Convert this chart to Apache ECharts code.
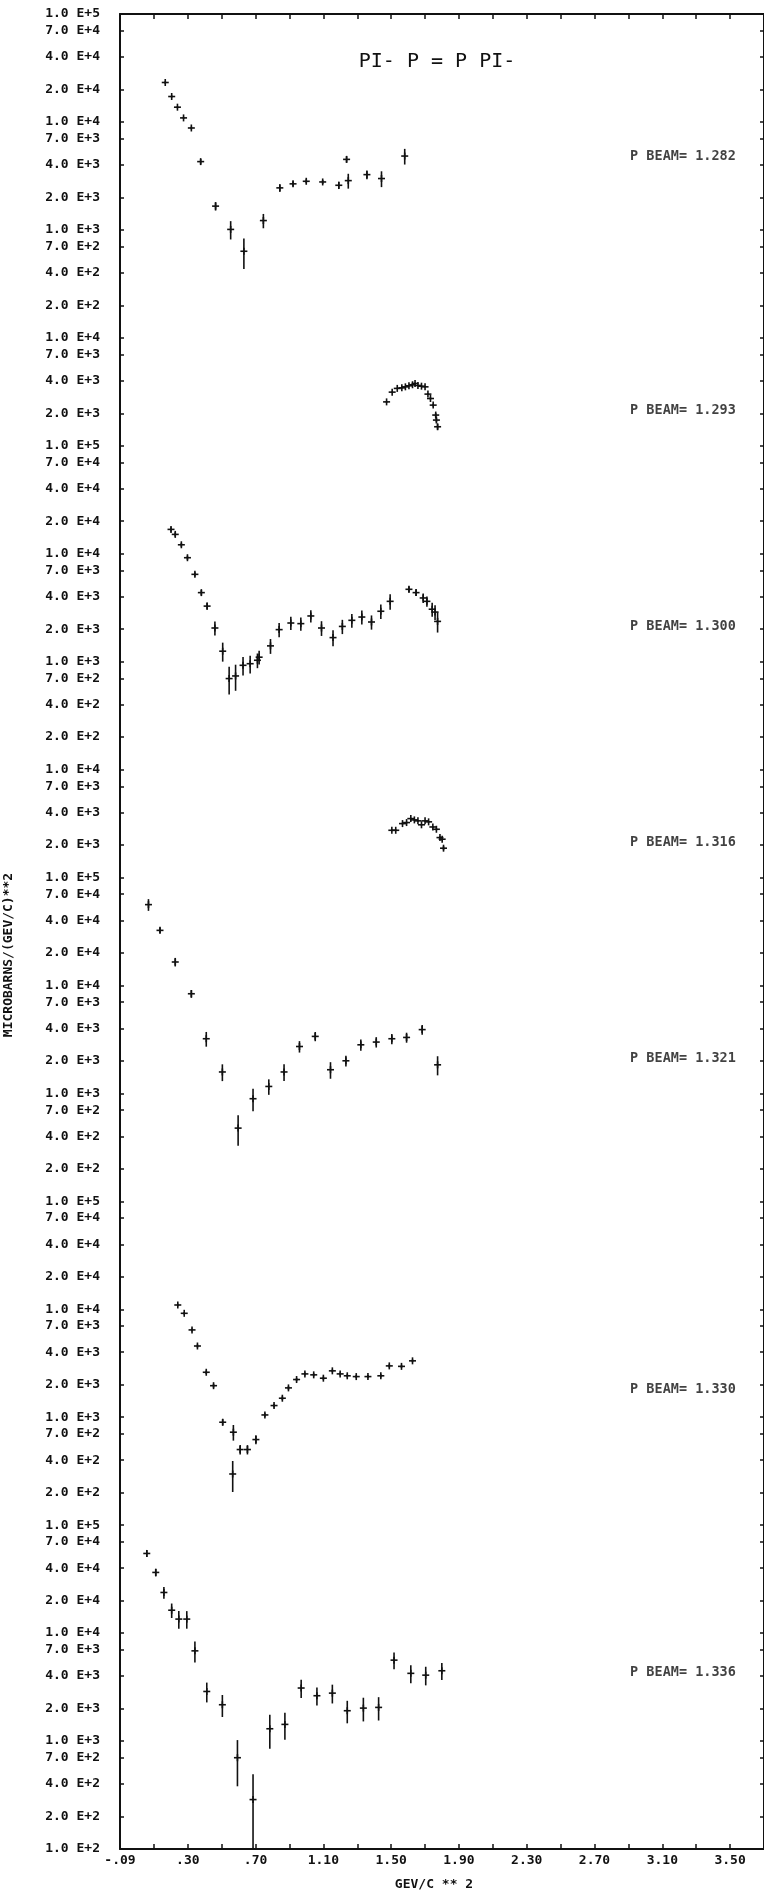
<!DOCTYPE html>
<html><head><meta charset="utf-8">
<script src="https://cdn.jsdelivr.net/npm/echarts@6/dist/echarts.min.js"></script>
<style>html,body{margin:0;padding:0;background:#fff;}#c{width:764px;height:1895px;}</style>
</head><body><div id="c"></div>
<script>
// ---- panel definitions ----
const beamLabels = ['1.282','1.293','1.300','1.316','1.321','1.330','1.336'];
const panelTopExp = [5,4,5,4,5,5,5];
const panelBottomExp = [2,3,2,3,2,2,2];
const beamLabelAt = [4800,2100,2100,2100,2100,1800,4300];
const beamLabelX = 2.91;
const tickMantissas = [1,7,4,2];
const xTickValues = [-0.1,0.3,0.7,1.1,1.5,1.9,2.3,2.7,3.1,3.5];
const xTickLabels = ['-.09','.30','.70','1.10','1.50','1.90','2.30','2.70','3.10','3.50'];

// ---- data (x in GeV^2, y in microbarns/GeV^2, symmetric error) ----
const p1282_x = [0.167,0.205,0.239,0.275,0.321,0.376,0.464,0.553,0.631,0.746,0.843,0.921,0.999,1.096,1.191,1.237,1.247,1.357,1.443,1.580];
const p1282_y = [23200,17200,13700,10900,8790,4290,1660,1010,634,1220,2450,2670,2820,2780,2590,4500,2860,3250,2990,4830];
const p1282_e = [600,400,300,250,250,250,150,195,200,185,200,150,120,120,200,300,450,300,500,800];

const p1293_x = [1.473,1.506,1.536,1.563,1.584,1.605,1.626,1.641,1.658,1.679,1.700,1.717,1.732,1.748,1.763,1.767,1.774];
const p1293_y = [2550,3140,3400,3440,3515,3595,3675,3775,3620,3565,3515,3010,2740,2380,1925,1730,1500];
const p1293_e = [50,50,50,50,50,50,50,60,50,50,50,60,60,70,80,80,90];

const p1300_x = [0.201,0.226,0.262,0.298,0.342,0.380,0.414,0.460,0.506,0.544,0.582,0.626,0.668,0.711,0.721,0.788,0.839,0.908,0.967,1.026,1.089,1.157,1.212,1.268,1.327,1.384,1.439,1.494,1.605,1.647,1.689,1.711,1.742,1.759,1.774];
const p1300_y = [16800,15100,12100,9180,6440,4360,3270,2050,1250,697,737,925,957,1030,1100,1400,1980,2280,2250,2650,2050,1670,2120,2415,2590,2330,2930,3620,4680,4360,3890,3620,3060,2880,2360];
const p1300_e = [800,700,500,400,300,250,250,300,250,200,200,180,180,160,160,220,300,320,320,350,320,280,320,350,380,350,450,600,300,300,400,400,450,450,500];

const p1316_x = [1.504,1.527,1.567,1.591,1.616,1.637,1.658,1.679,1.700,1.721,1.746,1.767,1.788,1.801,1.809];
const p1316_y = [2740,2740,3160,3230,3515,3420,3350,3080,3350,3280,2940,2800,2345,2265,1870];
const p1316_e = [50,50,60,60,60,60,60,60,60,60,60,60,70,70,80];

const p1321_x = [0.068,0.136,0.226,0.321,0.409,0.504,0.597,0.685,0.778,0.868,0.959,1.052,1.142,1.233,1.321,1.412,1.504,1.591,1.683,1.774];
const p1321_y = [56100,32400,16500,8380,3210,1580,477,893,1160,1580,2720,3375,1657,2005,2820,2990,3210,3300,3900,1840];
const p1321_e = [7000,2000,1500,700,500,280,150,210,190,280,330,330,290,230,330,330,350,350,400,370];

const p1330_x = [0.241,0.279,0.325,0.357,0.409,0.452,0.506,0.565,0.569,0.609,0.652,0.702,0.755,0.809,0.858,0.894,0.942,0.991,1.043,1.100,1.153,1.199,1.241,1.294,1.363,1.439,1.489,1.561,1.626];
const p1330_y = [10960,9180,6440,4570,2610,1960,899,298,727,502,502,621,1050,1283,1500,1870,2235,2520,2470,2300,2690,2520,2420,2380,2380,2420,2990,2960,3330];
const p1330_e = [300,250,200,150,100,80,60,95,120,50,50,60,40,50,60,70,80,80,80,80,80,80,80,80,80,80,100,100,100];

const p1336_x = [0.058,0.111,0.159,0.205,0.247,0.294,0.342,0.412,0.504,0.593,0.685,0.784,0.873,0.969,1.062,1.153,1.241,1.336,1.426,1.517,1.616,1.704,1.799];
const p1336_y = [54700,36500,23800,16300,13490,13490,6850,2880,2170,701,287,1300,1427,3100,2630,2780,1910,2020,2050,5620,4240,4080,4480];
const p1336_e = [4000,3000,3000,2500,2500,2500,1500,600,500,320,205,450,400,600,500,550,450,500,500,1000,800,800,800];

const panelX = [p1282_x,p1293_x,p1300_x,p1316_x,p1321_x,p1330_x,p1336_x];
const panelY = [p1282_y,p1293_y,p1300_y,p1316_y,p1321_y,p1330_y,p1336_y];
const panelE = [p1282_e,p1293_e,p1300_e,p1316_e,p1321_e,p1330_e,p1336_e];

// ---- stacked log panels on one linear "decade" axis ----
const ranges = panelTopExp.map((t,i)=>t-panelBottomExp[i]);
const totalDec = ranges.reduce((a,b)=>a+b,0);
const offsets = [];
{ let top = totalDec; for (let i=0;i<ranges.length;i++){ offsets.push(top-panelTopExp[i]); top -= ranges[i]; } }
const g = (i,v)=>Math.log10(v)+offsets[i];

const yTickG = [], yTickText = {};
panelTopExp.forEach((t,i)=>{
  for (let e=t;e>panelBottomExp[i];e--){
    tickMantissas.forEach((m,k)=>{
      const ex = k===0 ? e : e-1;
      const gv = g(i, m*Math.pow(10,ex));
      yTickG.push(gv); yTickText[gv.toFixed(4)] = m.toFixed(1)+' E+'+ex;
    });
  }
  if (i===panelTopExp.length-1){
    const ex = panelBottomExp[i], gv = g(i, Math.pow(10,ex));
    yTickG.push(gv); yTickText[gv.toFixed(4)] = '1.0 E+'+ex;
  }
});

const xMinor = []; for (let k=0;k<=19;k++) xMinor.push(+(-0.1+0.2*k).toFixed(2));

const FONT = 'DejaVu Sans Mono';
const INK = '#111';

const series = [];
panelX.forEach((xs,i)=>{
  const lo = offsets[i]+panelBottomExp[i], hi = offsets[i]+panelTopExp[i];
  const data = xs.map((x,j)=>{
    const y = panelY[i][j], e = panelE[i][j];
    const gl = y-e>0 ? Math.max(lo, g(i,y-e)) : lo;
    const gh = Math.min(hi, g(i,y+e));
    return [x, g(i,y), gl, gh];
  });
  series.push({
    type:'custom', name:'P BEAM '+beamLabels[i], data, encode:{x:0,y:1}, silent:true, animation:false,
    renderItem:(params,api)=>{
      const p = api.coord([api.value(0),api.value(1)]);
      const a = api.coord([api.value(0),api.value(2)]);
      const b = api.coord([api.value(0),api.value(3)]);
      const st = {stroke:INK, lineWidth:1.6};
      return {type:'group',children:[
        {type:'line',shape:{x1:p[0],y1:b[1],x2:p[0],y2:a[1]},style:st},
        {type:'line',shape:{x1:p[0]-3.5,y1:p[1],x2:p[0]+3.5,y2:p[1]},style:st},
        {type:'line',shape:{x1:p[0],y1:p[1]-3.5,x2:p[0],y2:p[1]+3.5},style:st}
      ]};
    }
  });
});
series.push({
  type:'scatter', symbolSize:0, silent:true, animation:false,
  data: beamLabels.map((b,i)=>({value:[beamLabelX, g(i,beamLabelAt[i])], name:'P BEAM= '+b})),
  label:{show:true, position:'right', distance:0, formatter:p=>p.name,
    fontFamily:FONT, fontWeight:'bold', fontSize:13.5, color:INK}
});

const chart = echarts.init(document.getElementById('c'), null, {renderer:'canvas'});
const axisLine = {show:true, onZero:false, lineStyle:{color:INK, width:2}};
chart.setOption({
  animation:false,
  backgroundColor:'#fff',
  grid:{left:120, top:14, width:645, height:1835},
  xAxis:[
    {type:'value', min:-0.1, max:3.7, position:'bottom', axisLine,
     axisTick:{show:true, inside:true, length:5, customValues:xMinor, lineStyle:{color:INK,width:1.5}},
     axisLabel:{show:true, customValues:xTickValues, margin:5,
       formatter:v=>{let k=0,d=1e9;xTickValues.forEach((t,i)=>{if(Math.abs(t-v)<d){d=Math.abs(t-v);k=i;}});return xTickLabels[k];},
       fontFamily:FONT, fontWeight:'bold', fontSize:13, color:INK},
     splitLine:{show:false}},
    {type:'value', min:-0.1, max:3.7, position:'top', axisLine,
     axisTick:{show:true, inside:true, length:5, customValues:xMinor, lineStyle:{color:INK,width:1.5}},
     axisLabel:{show:false}, splitLine:{show:false}}
  ],
  yAxis:[
    {type:'value', min:0, max:totalDec, position:'left', axisLine,
     axisTick:{show:true, inside:true, length:4, customValues:yTickG, lineStyle:{color:INK,width:1.5}},
     axisLabel:{show:true, customValues:yTickG, margin:20, padding:[0,0,5,0],
       formatter:v=>yTickText[v.toFixed(4)]||'',
       fontFamily:FONT, fontWeight:'bold', fontSize:13, color:INK},
     splitLine:{show:false}},
    {type:'value', min:0, max:totalDec, position:'right', axisLine,
     axisTick:{show:true, inside:true, length:4, customValues:yTickG, lineStyle:{color:INK,width:1.5}},
     axisLabel:{show:false}, splitLine:{show:false}}
  ],
  graphic:[
    {type:'text', x:437, y:62, style:{text:'PI- P = P PI-', font:'normal 20px "DejaVu Sans Mono"', fill:INK, textAlign:'center', textVerticalAlign:'middle'}},
    {type:'text', x:434, y:1885, style:{text:'GEV/C ** 2', font:'bold 13px "DejaVu Sans Mono"', fill:INK, textAlign:'center', textVerticalAlign:'middle'}},
    {type:'text', x:9, y:955, rotation:Math.PI/2, style:{text:'MICROBARNS/(GEV/C)**2', font:'bold 13px "DejaVu Sans Mono"', fill:INK, textAlign:'center', textVerticalAlign:'middle'}}
  ],
  series
});
</script></body></html>
